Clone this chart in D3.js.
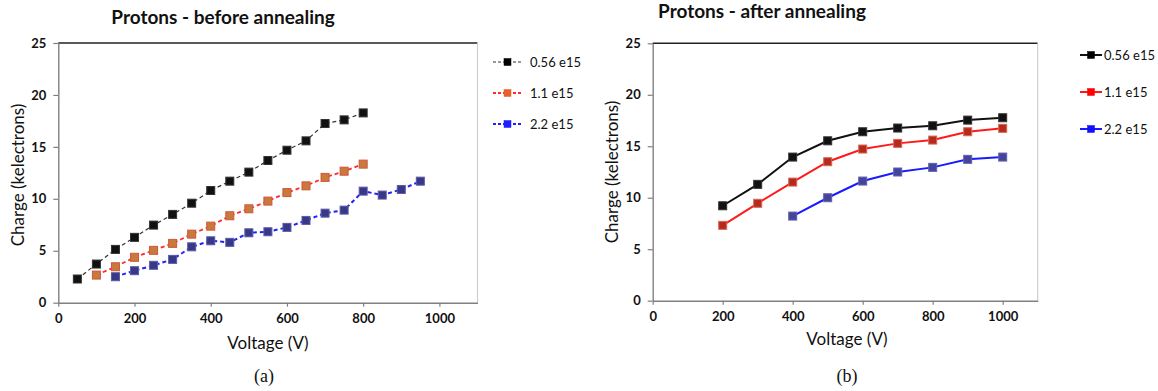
<!DOCTYPE html>
<html>
<head>
<meta charset="utf-8">
<script src="https://cdn.jsdelivr.net/npm/d3@7"></script>
<style>
  html, body { margin: 0; padding: 0; background: #fff; }
  svg { display: block; }
</style>
</head>
<body>
<svg id="chart" width="1158" height="391"></svg>
<script>
// Series labels (fluence)
const seriesNames = ["0.56 e15", "1.1 e15", "2.2 e15"];

// Tick values
const xTicks = [0, 200, 400, 600, 800, 1000];
const yTicks = [0, 5, 10, 15, 20, 25];

// Before annealing: voltage (V) and collected charge (kelectrons)
const beforeV1 = [50, 100, 150, 200, 250, 300, 350, 400, 450, 500, 550, 600, 650, 700, 750, 800];
const beforeQ1 = [2.28, 3.72, 5.13, 6.29, 7.47, 8.5, 9.58, 10.8, 11.7, 12.57, 13.69, 14.68, 15.58, 17.25, 17.6, 18.27];
const beforeV2 = [100, 150, 200, 250, 300, 350, 400, 450, 500, 550, 600, 650, 700, 750, 800];
const beforeQ2 = [2.66, 3.46, 4.37, 5.04, 5.71, 6.6, 7.37, 8.37, 9.04, 9.78, 10.6, 11.25, 12.06, 12.66, 13.34];
const beforeV3 = [150, 200, 250, 300, 350, 400, 450, 500, 550, 600, 650, 700, 750, 800, 850, 900, 950];
const beforeQ3 = [2.5, 3.08, 3.6, 4.17, 5.38, 5.96, 5.81, 6.73, 6.83, 7.25, 7.92, 8.62, 8.91, 10.74, 10.36, 10.9, 11.7];

// After annealing
const afterV1 = [200, 300, 400, 500, 600, 700, 800, 900, 1000];
const afterQ1 = [9.22, 11.3, 13.95, 15.53, 16.41, 16.77, 16.99, 17.54, 17.77];
const afterV2 = [200, 300, 400, 500, 600, 700, 800, 900, 1000];
const afterQ2 = [7.32, 9.46, 11.52, 13.5, 14.73, 15.28, 15.6, 16.41, 16.74];
const afterV3 = [400, 500, 600, 700, 800, 900, 1000];
const afterQ3 = [8.22, 10.0, 11.62, 12.5, 12.95, 13.73, 13.95];

const svg = d3.select("#chart");
const sans = "Lato, 'Open Sans', 'DejaVu Sans', sans-serif";
const serif = "'Liberation Serif', 'DejaVu Serif', serif";

function zip(xs, ys) { return xs.map((x, i) => ({ x, y: ys[i] })); }

function drawPanel(cfg) {
  const g = svg.append("g");
  const x = d3.scaleLinear().domain([0, 1100]).range([cfg.left, cfg.right]);
  const y = d3.scaleLinear().domain([0, 25]).range([cfg.bottom, cfg.top]);

  // frame: dark top edge, light right edge
  g.append("line").attr("x1", cfg.left).attr("x2", cfg.right)
    .attr("y1", cfg.top).attr("y2", cfg.top)
    .attr("stroke", "#222").attr("stroke-width", 1.4);
  g.append("line").attr("x1", cfg.right).attr("x2", cfg.right)
    .attr("y1", cfg.top).attr("y2", cfg.bottom)
    .attr("stroke", "#cfcfcf").attr("stroke-width", 1.2);

  // axes
  const xAxis = g.append("g").attr("transform", `translate(0,${cfg.bottom})`)
    .call(d3.axisBottom(x).tickValues(xTicks).tickFormat(d3.format("d"))
      .tickSize(4).tickPadding(7).tickSizeOuter(0));
  const yAxis = g.append("g").attr("transform", `translate(${cfg.left},0)`)
    .call(d3.axisLeft(y).tickValues(yTicks).tickFormat(d3.format("d"))
      .tickSize(5).tickPadding(7).tickSizeOuter(0));
  [xAxis, yAxis].forEach(a => {
    a.select(".domain").attr("stroke", "#808080").attr("stroke-width", 1.4);
    a.selectAll(".tick line").attr("stroke", "#808080").attr("stroke-width", 1.2);
    a.selectAll(".tick text").attr("fill", "#111")
      .style("font-family", sans).style("font-weight", "bold").style("font-size", "13px");
  });

  // series
  cfg.series.forEach((s, i) => {
    const pts = zip(s.xs, s.ys);
    const line = d3.line().x(d => x(d.x)).y(d => y(d.y));
    g.append("path").datum(pts).attr("d", line)
      .attr("fill", "none").attr("stroke", s.line).attr("stroke-width", s.width)
      .attr("stroke-dasharray", cfg.dashed ? "4,3" : null);
    g.selectAll(null).data(pts).enter().append("rect")
      .attr("x", d => x(d.x) - 4).attr("y", d => y(d.y) - 4)
      .attr("width", 8).attr("height", 8)
      .attr("fill", s.fill).attr("stroke", s.edge).attr("stroke-width", 1);

    // legend entry
    const ly = cfg.legendY[i];
    g.append("line").attr("x1", cfg.legendX0).attr("x2", cfg.legendX1)
      .attr("y1", ly).attr("y2", ly)
      .attr("stroke", s.line).attr("stroke-width", s.width)
      .attr("stroke-dasharray", cfg.dashed ? "3,2" : null);
    const mx = (cfg.legendX0 + cfg.legendX1) / 2;
    g.append("rect").attr("x", mx - 3.5).attr("y", ly - 3.5)
      .attr("width", 7).attr("height", 7)
      .attr("fill", s.legendFill).attr("stroke", s.legendFill).attr("stroke-width", 0.5);
    g.append("text").attr("x", cfg.legendText).attr("y", ly + 5)
      .text(seriesNames[i])
      .style("font-family", sans).style("font-size", "13px").attr("fill", "#111");
  });

  // titles
  g.append("text").attr("x", cfg.titleX).attr("y", cfg.titleY).attr("text-anchor", "middle")
    .text(cfg.title)
    .style("font-family", sans).style("font-weight", "bold").style("font-size", "19px").attr("fill", "#111");
  g.append("text").attr("x", cfg.xTitleX).attr("y", cfg.bottom + cfg.xTitleDy)
    .attr("text-anchor", "middle").text("Voltage (V)")
    .style("font-family", sans).style("font-size", "17px").attr("fill", "#111");
  g.append("text")
    .attr("transform", `translate(${cfg.yTitleX},${cfg.yTitleY}) rotate(-90)`)
    .attr("text-anchor", "middle").text("Charge (kelectrons)")
    .style("font-family", sans).style("font-size", "17px").attr("fill", "#111");
  g.append("text").attr("x", cfg.capX).attr("y", 382).attr("text-anchor", "middle")
    .text(cfg.caption)
    .style("font-family", serif).style("font-size", "18px").attr("fill", "#111");
}

drawPanel({
  left: 58.3, right: 477.5, top: 43, bottom: 302.7,
  dashed: true,
  title: "Protons - before annealing", titleX: 223, titleY: 24,
  xTitleX: 268, xTitleDy: 46,
  yTitleX: 24, yTitleY: 175, capX: 264, caption: "(a)",
  legendX0: 493, legendX1: 522, legendText: 530, legendY: [62, 93, 124],
  series: [
    { xs: beforeV1, ys: beforeQ1, line: "#333", width: 1.2, fill: "#111", edge: "#333", legendFill: "#000" },
    { xs: beforeV2, ys: beforeQ2, line: "#ff2a2a", width: 1.8, fill: "#c77a3c", edge: "#d2553a", legendFill: "#e8602a" },
    { xs: beforeV3, ys: beforeQ3, line: "#2020ff", width: 2, fill: "#383888", edge: "#5a5aa8", legendFill: "#2020ff" }
  ]
});

drawPanel({
  left: 652.7, right: 1037.7, top: 43.3, bottom: 300.7,
  dashed: false,
  title: "Protons - after annealing", titleX: 762, titleY: 18,
  xTitleX: 847, xTitleDy: 44,
  yTitleX: 618, yTitleY: 172, capX: 847, caption: "(b)",
  legendX0: 1080, legendX1: 1102, legendText: 1104, legendY: [55, 92, 129],
  series: [
    { xs: afterV1, ys: afterQ1, line: "#111", width: 2, fill: "#111", edge: "#333", legendFill: "#000" },
    { xs: afterV2, ys: afterQ2, line: "#ff1a1a", width: 2, fill: "#b8281c", edge: "#d06a55", legendFill: "#ff0000" },
    { xs: afterV3, ys: afterQ3, line: "#1a1aff", width: 2, fill: "#44449a", edge: "#6060b0", legendFill: "#1010ff" }
  ]
});
</script>
</body>
</html>
